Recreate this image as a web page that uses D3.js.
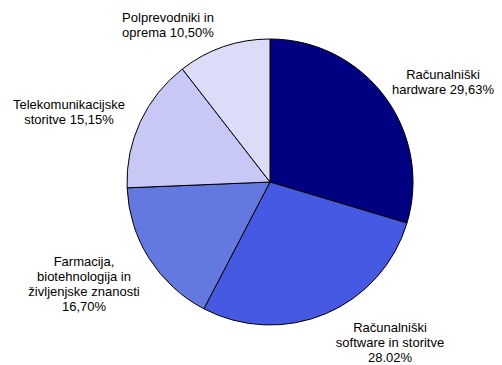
<!DOCTYPE html>
<html>
<head>
<meta charset="utf-8">
<script src="https://cdn.jsdelivr.net/npm/d3@7"></script>
<style>
  html, body { margin: 0; padding: 0; background: #fff; }
  svg { display: block; }
  text { font-family: "Liberation Sans", Arial, sans-serif; font-size: 13px; fill: #000; }
</style>
</head>
<body>
<svg id="chart" width="502" height="365"></svg>
<script>
// Sector shares, clockwise from 12 o'clock
const categories = [
  "Računalniški hardware",
  "Računalniški software in storitve",
  "Farmacija, biotehnologija in življenjske znanosti",
  "Telekomunikacijske storitve",
  "Polprevodniki in oprema"
];
const values = [29.63, 28.02, 16.70, 15.15, 10.50];
const labelLines = [
  ["Računalniški", "hardware 29,63%"],
  ["Računalniški", "software in storitve", "28.02%"],
  ["Farmacija,", "biotehnologija in", "življenjske znanosti", "16,70%"],
  ["Telekomunikacijske", "storitve 15,15%"],
  ["Polprevodniki in", "oprema 10,50%"]
];
const colors = ["#000080", "#4659e2", "#6479e0", "#c8c8f6", "#dcdcf8"];

const svg = d3.select("#chart");
const cx = 270, cy = 182, r = 143;

const pie = d3.pie().sort(null).value(d => d)(values);
const arc = d3.arc().innerRadius(0).outerRadius(r);

const g = svg.append("g").attr("transform", `translate(${cx},${cy})`);

g.selectAll("path")
  .data(pie)
  .join("path")
  .attr("d", arc)
  .attr("fill", (d, i) => colors[i])
  .attr("stroke", "#000")
  .attr("stroke-width", 1);

// Label block centres (x) and first baselines (y), relative to the pie centre
const labelAnchor = [
  [173, -103],
  [120, 150],
  [-186, 84],
  [-201, -73],
  [-102, -160]
];
const lineH = 15;
pie.forEach((d, i) => {
  const x = cx + labelAnchor[i][0];
  const y = cy + labelAnchor[i][1];
  const t = svg.append("text")
    .attr("text-anchor", "middle")
    .attr("x", x)
    .attr("y", y);
  labelLines[i].forEach((ln, j) => {
    t.append("tspan").attr("x", x).attr("dy", j === 0 ? 0 : lineH).text(ln);
  });
});
</script>
</body>
</html>
